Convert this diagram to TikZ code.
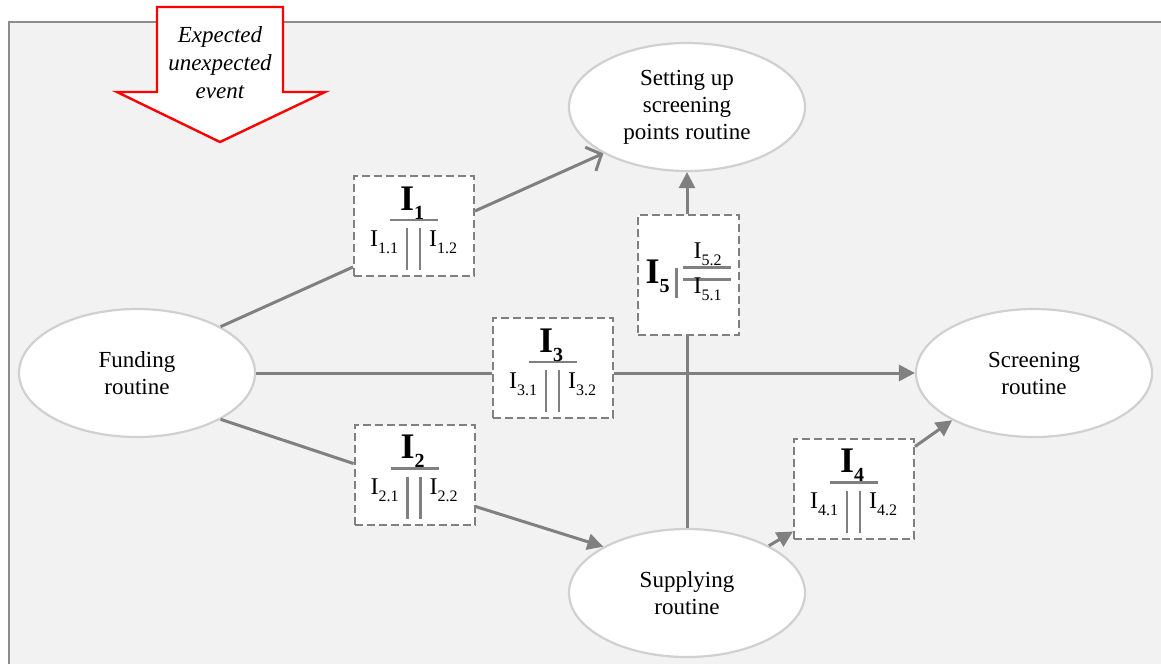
\documentclass[tikz,border=0pt]{standalone}
\usepackage{fontspec}
\setmainfont{Liberation Serif}
\usetikzlibrary{arrows.meta,calc,shapes.geometric}

\definecolor{panel}{HTML}{F2F2F2}
\definecolor{rim}{HTML}{D0D0D0}
\definecolor{link}{HTML}{808080}

\tikzset{
  routine/.style={ellipse, draw=rim, line width=2.2pt, fill=white,
    minimum width=236pt, minimum height=128pt, inner sep=0pt, align=center,
    font=\fontsize{23}{27}\selectfont},
  ibox/.style={draw=link, dash pattern=on 8pt off 4pt, line width=2pt,
    fill=white, inner sep=0pt},
  bar/.style={link, line width=2.6pt},
  conn/.style={link, line width=3pt},
  fwd/.style={conn, -{Triangle[length=16pt,width=16pt]}},
  openfwd/.style={conn, -{Straight Barb[length=12pt,width=26pt,line width=3pt]}},
}

% composite indicator: bold main label over two parallel sub-labels
\newcommand\splitbox[3]{% name, centre, index
  \node[ibox, minimum width=120pt, minimum height=100pt] (#1) at (#2) {};
  \begin{scope}[shift={(#1.center)}]
    \draw[bar] (-24,-6) -- (24,-6);
    \draw[bar] (-7,2) -- (-7,44);
    \draw[bar] (6,2) -- (6,44);
    \node[anchor=base, inner sep=0pt] at (-2,-16)
      {\fontsize{36}{36}\selectfont\bfseries I\raisebox{-9pt}{\fontsize{20}{20}\selectfont #3}};
    \node[anchor=base, inner sep=0pt] at (-30,20)
      {\fontsize{24}{24}\selectfont I\raisebox{-7pt}{\fontsize{16}{16}\selectfont #3.1}};
    \node[anchor=base, inner sep=0pt] at (29,20)
      {\fontsize{24}{24}\selectfont I\raisebox{-7pt}{\fontsize{16}{16}\selectfont #3.2}};
  \end{scope}
}

\begin{document}
\begin{tikzpicture}[x=1pt, y=-1pt]
  \useasboundingbox (0,0) rectangle (1161,664);

  % panel
  \fill[panel] (9,22) rectangle (1161,664);
  \draw[link!90, line width=1.2pt] (9,664) -- (9,22) -- (1161,22);

  % event arrow
  \draw[red, line width=2.4pt, fill=white, line join=miter]
    (157,7) -- (283,7) -- (283,92) -- (325,92) -- (220,142) -- (117,92) -- (157,92) -- cycle;
  \node[align=center, inner sep=0pt, font=\fontsize{23}{28}\selectfont\itshape]
    (event) at (220,63) {Expected\\unexpected\\event};

  % routines
  \node[routine] (setup)  at (687,107) {Setting up\\screening\\points routine};
  \node[routine] (fund)   at (137,373) {Funding\\routine};
  \node[routine] (screen) at (1034,373) {Screening\\routine};
  \node[routine] (supply) at (687,593) {Supplying\\routine};

  % indicators
  \splitbox{i1}{414,226}{1}
  \splitbox{i3}{553,368}{3}
  \splitbox{i2}{414.5,474.5}{2}
  \splitbox{i4}{854,488.5}{4}

  % indicator 5: stacked sub-labels
  \node[ibox, minimum width=101pt, minimum height=120pt] (i5) at (688.5,275) {};
  \begin{scope}[shift={(i5.center)}]
    \draw[bar] (-12,-7.5) -- (-12,22.5);
    \draw[bar] (-6,-7.5) -- (42,-7.5);
    \draw[bar] (-6,4.5) -- (42,4.5);
    \node[anchor=base, inner sep=0pt] at (-31,8.5)
      {\fontsize{36}{36}\selectfont\bfseries I\raisebox{-9pt}{\fontsize{20}{20}\selectfont 5}};
    \node[anchor=base, inner sep=0pt] at (19,-16.5)
      {\fontsize{24}{24}\selectfont I\raisebox{-7pt}{\fontsize{16}{16}\selectfont 5.2}};
    \node[anchor=base, inner sep=0pt] at (19,18.5)
      {\fontsize{24}{24}\selectfont I\raisebox{-7pt}{\fontsize{16}{16}\selectfont 5.1}};
  \end{scope}

  % connectors
  \draw[conn] (fund.29) -- ([yshift=10pt]i1.south west);
  \draw[openfwd] ([yshift=-36pt]i1.north east) -- (setup.209);

  \draw[conn] (fund.east) -- (fund.east -| i3.west);
  \draw[fwd] (fund.east -| i3.east) -- (screen.west);

  \draw[conn] (fund.331) -- ([yshift=-40pt]i2.north west);
  \draw[fwd] ([yshift=19pt]i2.south east) -- (supply.151);

  \draw[conn] (supply.north) -- (supply.north |- i5.south);
  \draw[fwd] (supply.north |- i5.north) -- (setup.south);

  \draw[fwd] (supply.30) -- ([yshift=8pt]i4.south west);
  \draw[fwd] ([yshift=-9pt]i4.north east) -- (screen.210);
\end{tikzpicture}
\end{document}
